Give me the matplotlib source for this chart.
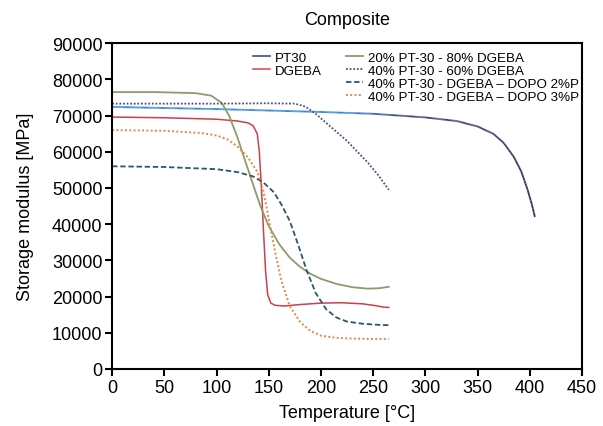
import matplotlib
matplotlib.use("Agg")
import matplotlib.pyplot as plt
from matplotlib.collections import LineCollection
from matplotlib.lines import Line2D
from matplotlib.colors import LinearSegmentedColormap
import numpy as np

plt.rcParams['font.family'] = ['Liberation Sans', 'DejaVu Sans']

# PT30
pt30_T = [0, 50, 100, 150, 200, 250, 300, 330, 350, 365, 375, 385, 392, 398, 402, 405]
pt30_E = [72400, 72100, 71800, 71400, 71000, 70500, 69500, 68500, 67000, 65000, 62500, 58500, 54500, 49500, 45500, 42000]

# DGEBA
dgeba_T = [0, 50, 100, 120, 130, 135, 139, 141, 143, 145, 147, 149, 152, 156, 165, 180, 200, 220, 240, 250, 260, 265]
dgeba_E = [69600, 69400, 69000, 68500, 68000, 67200, 65000, 60000, 50000, 38000, 27000, 20500, 18200, 17600, 17400, 17800, 18200, 18300, 18000, 17600, 17100, 17000]

# 20% PT-30 - 80% DGEBA
p20_T = [0, 40, 80, 95, 105, 112, 120, 128, 135, 142, 150, 160, 170, 180, 190, 200, 215, 230, 245, 255, 265]
p20_E = [76500, 76500, 76200, 75500, 73500, 70000, 64000, 57000, 51000, 45000, 39500, 34500, 30800, 28200, 26300, 24900, 23500, 22600, 22200, 22300, 22700]

# 40% PT-30 - 60% DGEBA
p40_T = [0, 50, 100, 150, 175, 185, 195, 205, 215, 225, 235, 245, 255, 265]
p40_E = [73300, 73300, 73300, 73400, 73300, 72500, 70500, 68000, 65500, 63000, 60000, 57000, 53500, 49500]

# 40% PT-30 - DGEBA - DOPO 2%P
p2_T = [0, 50, 100, 120, 135, 145, 155, 162, 170, 178, 186, 195, 205, 215, 225, 240, 255, 265]
p2_E = [56000, 55800, 55200, 54400, 53200, 51500, 48800, 45500, 41000, 34500, 27500, 21000, 16500, 14200, 13100, 12500, 12200, 12100]

# 40% PT-30 - DGEBA - DOPO 3%P
p3_T = [0, 50, 85, 100, 110, 120, 130, 139, 145, 150, 156, 162, 170, 180, 190, 200, 215, 230, 250, 265]
p3_E = [66000, 65800, 65200, 64500, 63500, 61500, 58500, 54500, 49000, 41500, 32500, 24500, 17500, 13000, 10500, 9200, 8600, 8400, 8300, 8300]

labels_col1 = ["PT30", "DGEBA"]
labels_col2 = ["20% PT-30 - 80% DGEBA", "40% PT-30 - 60% DGEBA",
               "40% PT-30 - DGEBA – DOPO 2%P", "40% PT-30 - DGEBA – DOPO 3%P"]
title = "Composite"
xlabel = "Temperature [°C]"
ylabel = "Storage modulus [MPa]"

fig = plt.figure(figsize=(6.03, 4.27), dpi=100)
ax = fig.add_axes([0.186, 0.1335, 0.779, 0.763])

# PT30 drawn with a colour shift from bright blue to navy along temperature
T_fine = np.linspace(pt30_T[0], pt30_T[-1], 400)
E_fine = np.interp(T_fine, pt30_T, pt30_E)
segs = np.stack([np.column_stack([T_fine[:-1], E_fine[:-1]]),
                 np.column_stack([T_fine[1:], E_fine[1:]])], axis=1)
cmap = LinearSegmentedColormap.from_list(
    "pt", [(0, "#2f86d8"), (0.56, "#2f86d8"), (0.68, "#3a4278"), (1, "#35375e")])
lc = LineCollection(segs, cmap=cmap, linewidths=1.3)
lc.set_array(T_fine[:-1] / 405.0)
lc.set_clim(0, 1)
ax.add_collection(lc)
h_pt30 = Line2D([], [], color="#3b4a8e", lw=1.2)

h_dg, = ax.plot(dgeba_T, dgeba_E, color="#c9414e", lw=1.1)
h_20, = ax.plot(p20_T, p20_E, color="#8c9c6c", lw=1.3)
h_40, = ax.plot(p40_T, p40_E, color="#4a4e86", lw=1.3, ls=(0, (1, 1)))
h_2, = ax.plot(p2_T, p2_E, color="#2f5570", lw=1.3, ls=(0, (3, 1.5)))
h_3, = ax.plot(p3_T, p3_E, color="#e98447", lw=1.4, ls=(0, (1, 1.2)))

ax.set_xlim(0, 450)
ax.set_ylim(0, 90000)
ax.set_xticks(np.arange(0, 451, 50))
ax.set_yticks(np.arange(0, 90001, 10000))
ax.tick_params(labelsize=13, width=1.5, length=5, direction='out', pad=2)
for s in ax.spines.values():
    s.set_linewidth(1.5)

ax.set_title(title, fontsize=13, pad=14)
ax.set_xlabel(xlabel, fontsize=13, labelpad=6)
ax.set_ylabel(ylabel, fontsize=13, labelpad=13)

legkw = dict(frameon=False, fontsize=9.6, handlelength=1.3, handletextpad=0.35,
             labelspacing=0.05, borderaxespad=0.0, borderpad=0.0)
leg1 = ax.legend([h_pt30, Line2D([], [], color="#d9434e", lw=1.1)], labels_col1,
                 loc='upper left', bbox_to_anchor=(0.30, 0.975), **legkw)
ax.add_artist(leg1)
leg2 = ax.legend([h_20, h_40, h_2, h_3], labels_col2,
                 loc='upper left', bbox_to_anchor=(0.497, 0.975), **legkw)

fig.savefig("out.png", dpi=100)
